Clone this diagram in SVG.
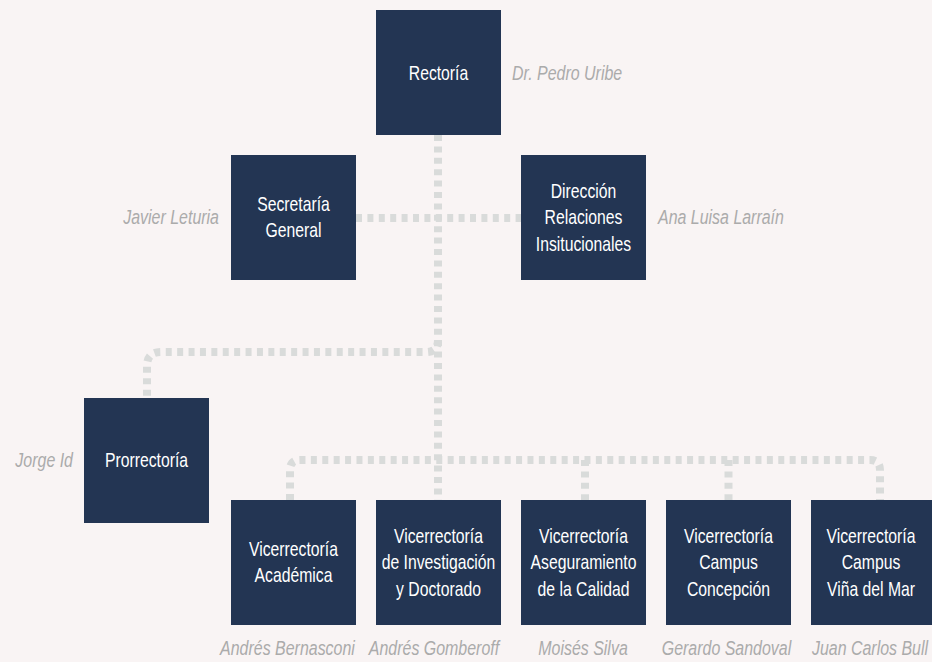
<svg xmlns="http://www.w3.org/2000/svg" width="932" height="662" viewBox="0 0 932 662">
<style>
.bg{fill:#f9f4f4}
.box{fill:#233553}
.t{fill:#ffffff;font-family:"Liberation Sans",Arial,sans-serif;font-size:21px;text-anchor:middle}
.n{fill:#ababab;font-family:"Liberation Sans",Arial,sans-serif;font-size:21px;font-style:italic}
.c{fill:none;stroke:#d9dbda;stroke-width:8;stroke-dasharray:6 5.4}
</style>
<rect class="bg" x="0" y="0" width="932" height="662"/>
<g id="connectors">
<path class="c" d="M438 135 V500"/>
<path class="c" d="M356 218 H521"/>
<path class="c" d="M438 340 Q438 352 426 352 H161 Q147 352 147 366 V398"/>
<path class="c" d="M290 500 V470 Q290 460 300 460 H870 Q880 460 880 470 V500"/>
<path class="c" d="M585 460 V500"/>
<path class="c" d="M728.5 460 V500"/>
</g>
<g id="rectoria">
<rect class="box" x="376" y="10" width="125" height="125"/>
<text class="t" transform="matrix(0.75 0 0 1 438.5 0)" x="0" y="80">Rectoría</text>
<text class="n" transform="matrix(0.76 0 0 1 512 0)" x="0" y="80">Dr. Pedro Uribe</text>
</g>
<g id="secretaria">
<rect class="box" x="231" y="155" width="125" height="125"/>
<text class="t" transform="matrix(0.75 0 0 1 293.5 0)"><tspan x="0" y="211">Secretaría</tspan><tspan x="0" y="237.5">General</tspan></text>
<text class="n" transform="matrix(0.76 0 0 1 219 0)" x="0" y="224" text-anchor="end">Javier Leturia</text>
</g>
<g id="direccion">
<rect class="box" x="521" y="155" width="125" height="125"/>
<text class="t" transform="matrix(0.75 0 0 1 583.5 0)"><tspan x="0" y="198">Dirección</tspan><tspan x="0" y="224.5">Relaciones</tspan><tspan x="0" y="251">Insitucionales</tspan></text>
<text class="n" transform="matrix(0.76 0 0 1 658 0)" x="0" y="224">Ana Luisa Larraín</text>
</g>
<g id="prorrectoria">
<rect class="box" x="84" y="398" width="125" height="125"/>
<text class="t" transform="matrix(0.75 0 0 1 146.5 0)" x="0" y="467.5">Prorrectoría</text>
<text class="n" transform="matrix(0.76 0 0 1 73 0)" x="0" y="467.5" text-anchor="end">Jorge Id</text>
</g>
<g id="vr-academica">
<rect class="box" x="231" y="500" width="125" height="125"/>
<text class="t" transform="matrix(0.75 0 0 1 293.5 0)"><tspan x="0" y="556">Vicerrectoría</tspan><tspan x="0" y="582.5">Académica</tspan></text>
<text class="n" transform="matrix(0.76 0 0 1 287.5 0)" x="0" y="655" text-anchor="middle">Andrés Bernasconi</text>
</g>
<g id="vr-investigacion">
<rect class="box" x="376" y="500" width="125" height="125"/>
<text class="t" transform="matrix(0.75 0 0 1 438.5 0)"><tspan x="0" y="543">Vicerrectoría</tspan><tspan x="0" y="569.5">de Investigación</tspan><tspan x="0" y="596">y Doctorado</tspan></text>
<text class="n" transform="matrix(0.76 0 0 1 434 0)" x="0" y="655" text-anchor="middle">Andrés Gomberoff</text>
</g>
<g id="vr-calidad">
<rect class="box" x="521" y="500" width="125" height="125"/>
<text class="t" transform="matrix(0.75 0 0 1 583.5 0)"><tspan x="0" y="543">Vicerrectoría</tspan><tspan x="0" y="569.5">Aseguramiento</tspan><tspan x="0" y="596">de la Calidad</tspan></text>
<text class="n" transform="matrix(0.76 0 0 1 583 0)" x="0" y="655" text-anchor="middle">Moisés Silva</text>
</g>
<g id="vr-concepcion">
<rect class="box" x="666" y="500" width="125" height="125"/>
<text class="t" transform="matrix(0.75 0 0 1 728.5 0)"><tspan x="0" y="543">Vicerrectoría</tspan><tspan x="0" y="569.5">Campus</tspan><tspan x="0" y="596">Concepción</tspan></text>
<text class="n" transform="matrix(0.76 0 0 1 726.5 0)" x="0" y="655" text-anchor="middle">Gerardo Sandoval</text>
</g>
<g id="vr-vina">
<rect class="box" x="811" y="500" width="125" height="125"/>
<text class="t" transform="matrix(0.75 0 0 1 871 0)"><tspan x="0" y="543">Vicerrectoría</tspan><tspan x="0" y="569.5">Campus</tspan><tspan x="0" y="596">Viña del Mar</tspan></text>
<text class="n" transform="matrix(0.76 0 0 1 870 0)" x="0" y="655" text-anchor="middle">Juan Carlos Bull</text>
</g>
</svg>
